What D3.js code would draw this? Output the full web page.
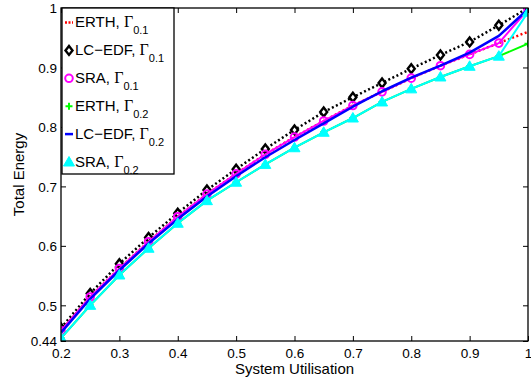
<!DOCTYPE html>
<html><head><meta charset="utf-8">
<script src="https://cdn.jsdelivr.net/npm/d3@7"></script>
<style>body{margin:0;background:#fff}svg{display:block}text{font-family:"Liberation Sans",Arial,sans-serif}</style>
</head><body><svg id="c" width="531" height="382"></svg>
<script>
const util = [0.2,0.25,0.3,0.35,0.4,0.45,0.5,0.55,0.6,0.65,0.7,0.75,0.8,0.85,0.9,0.95,1.0];
const erth01  = [0.457,0.514,0.562,0.607,0.649,0.687,0.721,0.754,0.783,0.810,0.836,0.859,0.882,0.903,0.922,0.941,0.960];
const lcedf01 = [0.462,0.520,0.570,0.614,0.655,0.694,0.729,0.763,0.795,0.825,0.850,0.874,0.898,0.921,0.943,0.971,1.000];
const sra01   = [0.457,0.514,0.562,0.607,0.649,0.687,0.721,0.754,0.783,0.810,0.836,0.859,0.882,0.903,0.922,0.941,0.997];
const erth02  = [0.445,0.500,0.551,0.596,0.638,0.676,0.707,0.737,0.765,0.791,0.815,0.842,0.864,0.884,0.902,0.919,0.940];
const lcedf02 = [0.454,0.511,0.559,0.604,0.645,0.683,0.717,0.749,0.778,0.806,0.834,0.860,0.883,0.903,0.925,0.953,0.998];
const sra02   = [0.445,0.500,0.551,0.596,0.638,0.676,0.707,0.737,0.765,0.791,0.815,0.842,0.864,0.884,0.902,0.919,0.993];
const xTicks = [0.2,0.3,0.4,0.5,0.6,0.7,0.8,0.9,1];
const yTicks = [0.44,0.5,0.6,0.7,0.8,0.9,1];
const xLabel = "System Utilisation";
const yLabel = "Total Energy";

const series = [
  {name:"ERTH", sub:"0.1", data:erth01, color:"#ff0000", dash:"2,2.5", width:2.5, marker:"none"},
  {name:"LC\u2212EDF", sub:"0.1", data:lcedf01, color:"#000000", dash:"2,2.5", width:2.5, marker:"diamond"},
  {name:"SRA", sub:"0.1", data:sra01, color:"#ff00ff", dash:null, width:2, marker:"circle"},
  {name:"ERTH", sub:"0.2", data:erth02, color:"#00ff00", dash:null, width:2, marker:"plus"},
  {name:"LC\u2212EDF", sub:"0.2", data:lcedf02, color:"#0000ff", dash:null, width:2.5, marker:"dash"},
  {name:"SRA", sub:"0.2", data:sra02, color:"#00ffff", dash:null, width:2, marker:"triangle"}
];

const L=61,R=528,T=8,B=341;
const x = d3.scaleLinear().domain([0.2,1]).range([L,R]);
const y = d3.scaleLinear().domain([0.44,1]).range([B,T]);
const svg = d3.select("#c");

svg.append("defs").append("clipPath").attr("id","clip").append("rect")
  .attr("x",L).attr("y",T).attr("width",R-L).attr("height",B-T);

const fmt = d => d===1 ? "1" : String(d);
const gx = svg.append("g").attr("transform",`translate(0,${B})`)
  .call(d3.axisBottom(x).tickValues(xTicks).tickSize(-5).tickFormat(fmt).tickPadding(7));
const gxt = svg.append("g").attr("transform",`translate(0,${T})`)
  .call(d3.axisTop(x).tickValues(xTicks).tickSize(-5).tickFormat(""));
const gy = svg.append("g").attr("transform",`translate(${L},0)`)
  .call(d3.axisLeft(y).tickValues(yTicks).tickSize(-5).tickFormat(fmt).tickPadding(4));
const gyr = svg.append("g").attr("transform",`translate(${R},0)`)
  .call(d3.axisRight(y).tickValues(yTicks).tickSize(-5).tickFormat(""));
[gx,gxt,gy,gyr].forEach(g=>{
  g.select(".domain").remove();
  g.selectAll("line").attr("stroke","#000");
  g.selectAll("text").attr("fill","#000").style("font-size","13.5px").style("font-family","'Liberation Sans',Arial,sans-serif");
});
gy.selectAll("text").attr("dy","0.35em");

const plot = svg.append("g").attr("clip-path","url(#clip)");
const line = d3.line().x((d,i)=>x(util[i])).y(d=>y(d));

function drawMarker(g, type, color, cx, cy){
  if(type==="diamond"){
    g.append("path").attr("d",`M${cx},${cy-4.5}L${cx+3.5},${cy}L${cx},${cy+4.5}L${cx-3.5},${cy}Z`)
      .attr("fill","#fff").attr("stroke",color).attr("stroke-width",2.4);
  } else if(type==="circle"){
    g.append("circle").attr("cx",cx).attr("cy",cy).attr("r",3.8)
      .attr("fill","none").attr("stroke",color).attr("stroke-width",2);
  } else if(type==="triangle"){
    g.append("path").attr("d",`M${cx},${cy-5.5}L${cx+5.5},${cy+4}L${cx-5.5},${cy+4}Z`)
      .attr("fill",color).attr("stroke",color).attr("stroke-width",1);
  } else if(type==="plus"){
    g.append("path").attr("d",`M${cx-3.5},${cy}H${cx+3.5}M${cx},${cy-3.5}V${cy+3.5}`)
      .attr("stroke",color).attr("stroke-width",2).attr("fill","none");
  }
}

series.forEach(s=>{
  const p = plot.append("path").datum(s.data).attr("d",line)
    .attr("fill","none").attr("stroke",s.color).attr("stroke-width",s.width)
    .attr("stroke-linejoin","round");
  if(s.dash) p.attr("stroke-dasharray",s.dash);
  if(s.marker!=="none" && s.marker!=="dash"){
    const mg = plot.append("g");
    s.data.forEach((v,i)=>drawMarker(mg,s.marker,s.color,x(util[i]),y(v)));
  }
});

svg.append("rect").attr("x",L).attr("y",T).attr("width",R-L).attr("height",B-T)
  .attr("fill","none").attr("stroke","#000").attr("stroke-width",1.3);

// legend
const lg = svg.append("g");
lg.append("rect").attr("x",62).attr("y",T).attr("width",112).attr("height",166)
  .attr("fill","#fff").attr("stroke","#000").attr("stroke-width",1.3);
series.forEach((s,i)=>{
  const my = 22.5 + i*27.9;
  const mx = 69;
  if(s.marker==="none"){
    lg.append("line").attr("x1",65).attr("x2",73).attr("y1",my).attr("y2",my)
      .attr("stroke",s.color).attr("stroke-width",2.5).attr("stroke-dasharray","2,1.5");
  } else if(s.marker==="dash"){
    lg.append("line").attr("x1",65).attr("x2",73).attr("y1",my).attr("y2",my)
      .attr("stroke",s.color).attr("stroke-width",2.5);
  } else {
    drawMarker(lg,s.marker,s.color,mx,my);
  }
  const t = lg.append("text").attr("x",75).attr("y",my+4.8).style("font-size","15px").attr("fill","#000");
  t.append("tspan").text(s.name+", ");
  t.append("tspan").style("font-family","'Liberation Serif','Times New Roman',serif").style("font-size","16px").text("\u0393");
  t.append("tspan").attr("dy",7).style("font-size","11px").text(s.sub);
});

svg.append("text").attr("x",(L+R)/2).attr("y",374).attr("text-anchor","middle")
  .style("font-size","15px").attr("fill","#000").text(xLabel);
svg.append("text").attr("transform",`translate(24,${(T+B)/2}) rotate(-90)`).attr("text-anchor","middle")
  .style("font-size","15px").attr("fill","#000").text(yLabel);
</script></body></html>
